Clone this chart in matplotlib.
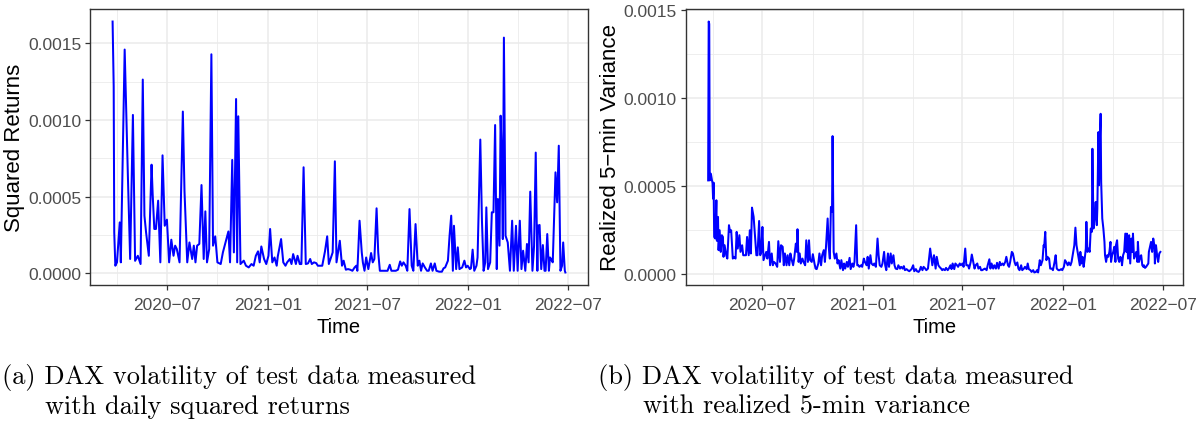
import matplotlib
matplotlib.use("Agg")
import matplotlib.pyplot as plt
import matplotlib.dates as mdates
from matplotlib.ticker import MultipleLocator, FormatStrFormatter
import pandas as pd

plt.rcParams['font.family'] = ['Liberation Sans', 'DejaVu Sans']

start = pd.Timestamp('2020-03-24')

# (a) daily squared returns, values in units of 1e-4, days counted from start
day_a = [0, 2, 3, 5, 8, 13, 15, 22, 28, 32, 37, 41, 46, 51, 55, 58, 61, 66, 71, 73,
         76, 79, 83, 87, 91, 95, 99, 103, 107, 111, 114, 117, 122, 128, 131, 136, 140, 145, 148, 151,
         154, 158, 162, 166, 169, 172, 176, 180, 183, 187, 191, 197, 201, 205, 211, 214, 218, 221, 225, 227,
         229, 233, 239, 243, 248, 253, 257, 261, 265, 268, 271, 276, 280, 284, 287, 291, 295, 299, 301, 307,
         311, 315, 318, 323, 326, 329, 334, 337, 341, 344, 348, 352, 356, 360, 363, 367, 371, 374, 378, 382,
         387, 391, 394,
         401, 405, 408, 414, 418, 421, 425, 429, 433, 437, 441, 444, 446, 450, 454, 456, 459, 462, 466, 471,
         474, 477, 481, 484, 487, 492, 497, 501, 505, 508, 512, 516, 520, 524, 527, 530, 534, 537, 541, 545,
         548, 552, 556, 559, 562, 565, 569, 573, 576, 580, 583, 587, 590, 595, 600, 603, 606, 611, 614, 617,
         620, 622, 626, 629, 632, 637, 641, 644, 647, 651, 653, 656, 659, 663, 665, 670, 673, 676, 679, 681,
         684, 688, 691, 694, 697, 700, 702, 705, 707, 709, 711, 713, 716, 720, 724, 728, 731, 735, 738, 742,
         745, 748, 752, 755, 758, 761, 765, 768, 771, 774, 775, 778, 781, 784, 787, 789, 792, 795, 797, 799,
         802, 807, 810, 813, 816, 819, 821, 824, 825]
sq_ret = [16.43, 12.20, 2.66, 0.48, 0.70, 3.31, 0.70, 14.60, 6.14, 0.92,
          10.33, 0.80, 1.13, 0.59, 12.64, 3.75, 2.66, 1.13, 7.08, 5.16,
          2.88, 2.88, 4.73, 0.70, 7.69, 3.09, 3.49, 0.70, 2.18, 1.13,
          1.79, 1.57, 0.70, 10.55, 5.36, 0.70, 2.00, 0.92, 1.79, 0.70,
          1.79, 1.90, 5.75, 0.92, 4.03, 0.70, 1.57, 14.29, 1.79, 2.40,
          0.70, 0.59, 1.35, 1.90, 2.72, 0.70, 7.39, 1.35, 11.37, 0.70,
          10.24, 0.59, 0.81, 0.48, 0.37, 0.59, 0.48, 1.13, 1.42, 0.70,
          1.74, 0.92, 0.59, 1.13, 2.88, 0.70, 1.02, 0.48, 1.09, 2.22,
          0.70, 0.48, 0.70, 0.92, 0.59, 1.24, 0.59, 1.13, 0.59, 0.59,
          6.91, 0.59, 0.63, 0.92, 0.59, 0.70, 0.65, 0.48, 0.48, 0.48,
          1.42, 2.40, 0.59,
          1.35, 7.30, 0.70, 2.11, 0.48, 0.81, 0.22, 0.26, 0.22, 0.15,
          0.37, 0.48, 0.15, 3.42, 1.35, 0.70, 0.15, 1.02, 0.26, 1.31,
          0.70, 0.92, 4.23, 1.35, 0.15, 0.15, 0.15, 0.15, 0.54, 0.15,
          0.15, 0.15, 0.22, 0.76, 0.48, 0.70, 0.48, 0.15, 4.18, 0.48,
          0.15, 3.20, 0.48, 0.81, 0.15, 0.63, 0.37, 0.15, 0.15, 0.63,
          0.15, 0.63, 0.15, 0.09, 0.09, 0.31, 0.37, 0.81, 2.44, 3.75,
          0.15, 3.09, 0.26, 1.68, 0.26, 0.37, 0.81, 0.37, 0.48, 0.26,
          0.31, 1.53, 0.15, 0.48, 1.02, 8.72, 3.42, 0.15, 0.70, 4.29,
          0.26, 0.70, 3.97, 3.97, 9.67, 0.26, 4.84, 1.79, 10.28, 7.76,
          2.22, 15.38, 2.44, 2.00, 0.15, 3.42, 0.15, 3.09, 0.15, 3.42,
          0.26, 1.46, 0.15, 1.90, 0.70, 5.32, 0.15, 1.79, 7.87, 0.15,
          3.09, 3.14, 0.26, 1.83, 0.15, 0.15, 2.55, 0.15, 1.02, 0.92,
          0.70, 6.58, 4.62, 8.32, 0.15, 0.48, 2.00, 0.15, 0.04]

# (b) realized 5-min variance, values in units of 1e-4
day_b = [0, 1, 2, 3, 5, 7, 8, 9, 10, 11, 13, 15, 16, 18, 19, 21, 23, 25, 27, 28,
         30, 33, 35, 38, 40, 42, 45, 47, 50, 52, 54, 57, 59, 62, 64, 67, 69, 71, 74, 76,
         78, 80, 83, 85, 88, 90, 93, 95, 97, 99, 101, 103, 106, 108, 111, 113, 116, 118, 120, 123,
         126, 128, 131, 133, 136, 138, 140, 143, 145, 148, 150, 152, 155, 157, 160, 162, 163, 165, 167, 169,
         172, 174, 177, 179, 182, 184, 186, 189, 191, 194, 196, 198, 201, 203, 206, 208, 211, 213, 215, 218,
         220, 222, 224, 226, 227, 229, 231, 234, 236, 238, 241, 243, 246, 248, 250, 253, 255, 258, 260, 263,
         265, 267, 270, 272, 274, 276, 279, 281, 284, 286, 289, 291, 293, 296, 298, 301, 303, 306, 309, 311,
         313, 316, 318, 321, 323, 325, 328, 330, 333, 335, 338, 340, 342, 345, 347, 350, 352, 355, 357, 359,
         362, 364, 367, 369, 371, 374, 376, 379, 381, 384, 386, 388, 391, 393, 396, 398, 401,
         405, 409, 412, 415, 417, 420, 422, 425, 427, 429, 432, 434, 437, 439, 442, 444, 446, 449, 451, 454,
         456, 459, 461, 464, 466, 469, 471, 474, 476, 479, 481, 483, 486, 488, 491, 493, 496, 498, 500, 503,
         505, 508, 510, 513, 515, 517, 520, 522, 525, 527, 530, 532, 534, 537, 539, 542, 544, 547, 549, 551,
         554, 556, 559, 561, 564, 566, 568, 571, 573, 576, 578, 581, 583, 585, 588, 590, 593, 595, 598, 600,
         602, 605, 607, 610, 612, 613, 615, 617, 619, 622, 624, 627, 629, 632, 634, 636, 639, 641, 644, 646,
         649, 651, 653, 656, 658, 661, 663, 665, 668, 670, 672, 674, 676, 678, 679, 681, 683, 685, 687, 689,
         690, 692, 694, 696, 698, 700, 701, 703, 705, 707, 709, 710, 712, 713, 715, 716, 717, 719, 721, 723,
         724, 726, 728, 730, 732, 734, 735, 737, 739, 741, 743, 744, 746, 748, 750, 752, 754, 755, 757, 759,
         761, 763, 764, 766, 768, 770, 772, 774, 775, 777, 779, 781, 783, 784, 786, 788, 790, 792, 794, 795,
         797, 799, 801, 803, 804, 806, 808, 810, 812, 814, 815, 817, 819, 821, 823, 825]
rv5 = [5.30, 14.34, 14.20, 5.30, 5.68, 5.30, 5.15, 4.26, 5.17, 2.08,
       1.99, 4.17, 1.86, 3.22, 1.33, 2.46, 1.23, 2.18, 2.08, 0.95,
       1.61, 1.04, 0.85, 2.75, 2.37, 2.46, 0.85, 0.95, 0.85, 2.37,
       1.42, 2.18, 1.23, 1.61, 1.04, 1.04, 1.04, 2.08, 1.04, 2.46,
       1.14, 3.75, 3.22, 2.37, 1.04, 1.04, 2.99, 1.04, 1.23, 2.65,
       0.76, 0.95, 1.23, 0.85, 1.80, 0.47, 1.14, 0.47, 0.66, 0.57,
       0.38, 1.84, 0.66, 1.61, 1.52, 0.47, 1.14, 0.47, 1.04, 0.47,
       1.14, 0.85, 0.47, 0.85, 1.70, 1.23, 2.52, 0.66, 1.14, 0.57,
       0.85, 0.66, 0.47, 1.89, 0.66, 1.89, 0.76, 0.66, 1.10, 0.57,
       0.28, 0.25, 0.57, 1.14, 0.47, 1.04, 1.33, 0.66, 1.52, 3.13,
       1.52, 0.85, 3.79, 3.50, 7.82, 1.23, 0.85, 1.14, 0.57, 0.76,
       0.28, 0.76, 0.19, 0.57, 0.28, 0.66, 0.38, 0.89, 0.25, 0.57,
       0.38, 0.66, 2.75, 0.47, 0.47, 0.38, 0.47, 0.38, 0.85, 0.66,
       0.47, 0.95, 0.28, 1.04, 0.57, 0.47, 0.57, 0.38, 1.99, 1.04,
       0.47, 0.38, 0.57, 1.23, 0.47, 0.19, 1.14, 0.38, 1.14, 0.57,
       1.04, 0.47, 0.28, 0.25, 0.47, 0.28, 0.38, 0.28, 0.42, 0.19,
       0.25, 0.19, 0.13, 0.19, 0.25, 0.47, 0.13, 0.25, 0.13, 0.09,
       0.19, 0.38, 0.19, 0.38, 0.28, 0.19, 0.28,
       1.42, 0.47, 1.04, 0.28, 0.95, 0.47, 0.38, 0.28, 0.19, 0.25,
       0.19, 0.32, 0.19, 0.28, 0.47, 0.25, 0.57, 0.25, 0.57, 0.47,
       0.38, 0.57, 0.47, 0.57, 0.38, 1.42, 0.47, 0.47, 0.28, 0.66,
       1.08, 0.76, 0.28, 0.47, 0.57, 0.28, 0.38, 0.19, 0.19, 0.25,
       0.28, 0.19, 0.47, 0.81, 0.28, 0.57, 0.28, 0.47, 0.28, 0.61,
       0.28, 0.66, 0.47, 0.57, 0.47, 0.66, 0.95, 0.47, 0.38, 0.66,
       1.23, 1.14, 0.66, 0.47, 0.63, 0.28, 0.19, 0.47, 0.19, 0.28,
       0.38, 0.25, 0.57, 0.25, 0.19, 0.09, 0.19, 0.06, 0.09, 0.19,
       0.06, 0.76, 0.47, 0.76, 1.61, 1.52, 2.37, 0.76, 0.95, 0.85,
       0.28, 0.28, 0.19, 0.66, 1.04, 0.28, 0.19, 0.19, 0.25, 0.19,
       0.38, 0.76, 0.66, 0.47, 0.63, 0.47, 0.66, 1.04, 1.61, 2.61,
       1.61, 1.23, 0.85, 0.47, 1.23, 0.57, 0.95, 0.38, 0.85, 1.42,
       2.94, 1.23, 1.42, 1.23, 2.56, 2.37, 7.10, 2.56, 3.13, 4.07,
       2.75, 3.69, 8.05, 5.02, 8.05, 9.09, 5.21, 3.13, 2.56, 1.80,
       1.04, 0.66, 1.04, 0.95, 1.23, 1.80, 0.66, 1.04, 1.23, 1.52,
       0.66, 1.61, 1.89, 0.85, 0.66, 0.95, 0.85, 0.47, 1.04, 1.23,
       2.27, 1.23, 2.27, 0.85, 2.18, 0.57, 1.99, 1.23, 2.27, 0.85,
       1.04, 1.23, 0.66, 1.80, 0.66, 0.95, 1.04, 0.47, 0.38, 0.47,
       0.32, 0.38, 0.47, 0.57, 1.23, 1.52, 1.80, 1.23, 1.99, 1.61,
       0.57, 1.61, 1.04, 0.66, 1.14, 1.23]

ylabels = ['Squared Returns', 'Realized 5\u2212min Variance']
captions = [('(a) DAX volatility of test data measured', 'with daily squared returns'),
            ('(b) DAX volatility of test data measured', 'with realized 5-min variance')]

dates_a = start + pd.to_timedelta(day_a, unit='D')
dates_b = start + pd.to_timedelta(day_b, unit='D')
vals_a = [v * 1e-4 for v in sq_ret]
vals_b = [v * 1e-4 for v in rv5]

fig = plt.figure(figsize=(12.01, 4.27), dpi=100)
ax_a = fig.add_axes([0.0749, 0.3302, 0.4147, 0.6464])
ax_b = fig.add_axes([0.5708, 0.3302, 0.4142, 0.6464])

for ax, x, y, lab in [(ax_a, dates_a, vals_a, ylabels[0]), (ax_b, dates_b, vals_b, ylabels[1])]:
    ax.plot(x, y, color='#0000FF', linewidth=1.45, zorder=3)
    ax.margins(x=0.05, y=0.05)
    ax.xaxis.set_major_locator(mdates.MonthLocator(bymonth=[1, 7]))
    ax.xaxis.set_minor_locator(mdates.MonthLocator(bymonth=[4, 10]))
    ax.xaxis.set_major_formatter(mdates.DateFormatter('%Y\u2212%m'))
    ax.yaxis.set_major_locator(MultipleLocator(0.0005))
    ax.yaxis.set_minor_locator(MultipleLocator(0.00025))
    ax.yaxis.set_major_formatter(FormatStrFormatter('%.4f'))
    ax.grid(which='major', color='#EBEBEB', linewidth=1.1, zorder=0)
    ax.grid(which='minor', color='#EBEBEB', linewidth=0.6, zorder=0)
    ax.set_axisbelow(True)
    for s in ax.spines.values():
        s.set_color('#333333')
        s.set_linewidth(1.0)
    ax.tick_params(which='major', length=3.3, width=0.9, color='#333333',
                   labelcolor='#4D4D4D', labelsize=12.5, pad=3)
    ax.tick_params(axis='x', which='major', pad=5)
    ax.tick_params(which='minor', length=0)
    ax.set_xlabel('Time', fontsize=14.5, labelpad=4)
    ax.set_ylabel(lab, fontsize=16, labelpad=2)

for i, (l1, l2) in enumerate(captions):
    x0 = [2, 598][i] / 1201
    x1 = [45, 643][i] / 1201
    fig.text(x0, 1 - 384 / 427, l1, fontfamily='cmr10', fontsize=19, va='baseline')
    fig.text(x1, 1 - 414 / 427, l2, fontfamily='cmr10', fontsize=19, va='baseline')

fig.savefig('out.png', dpi=100)
